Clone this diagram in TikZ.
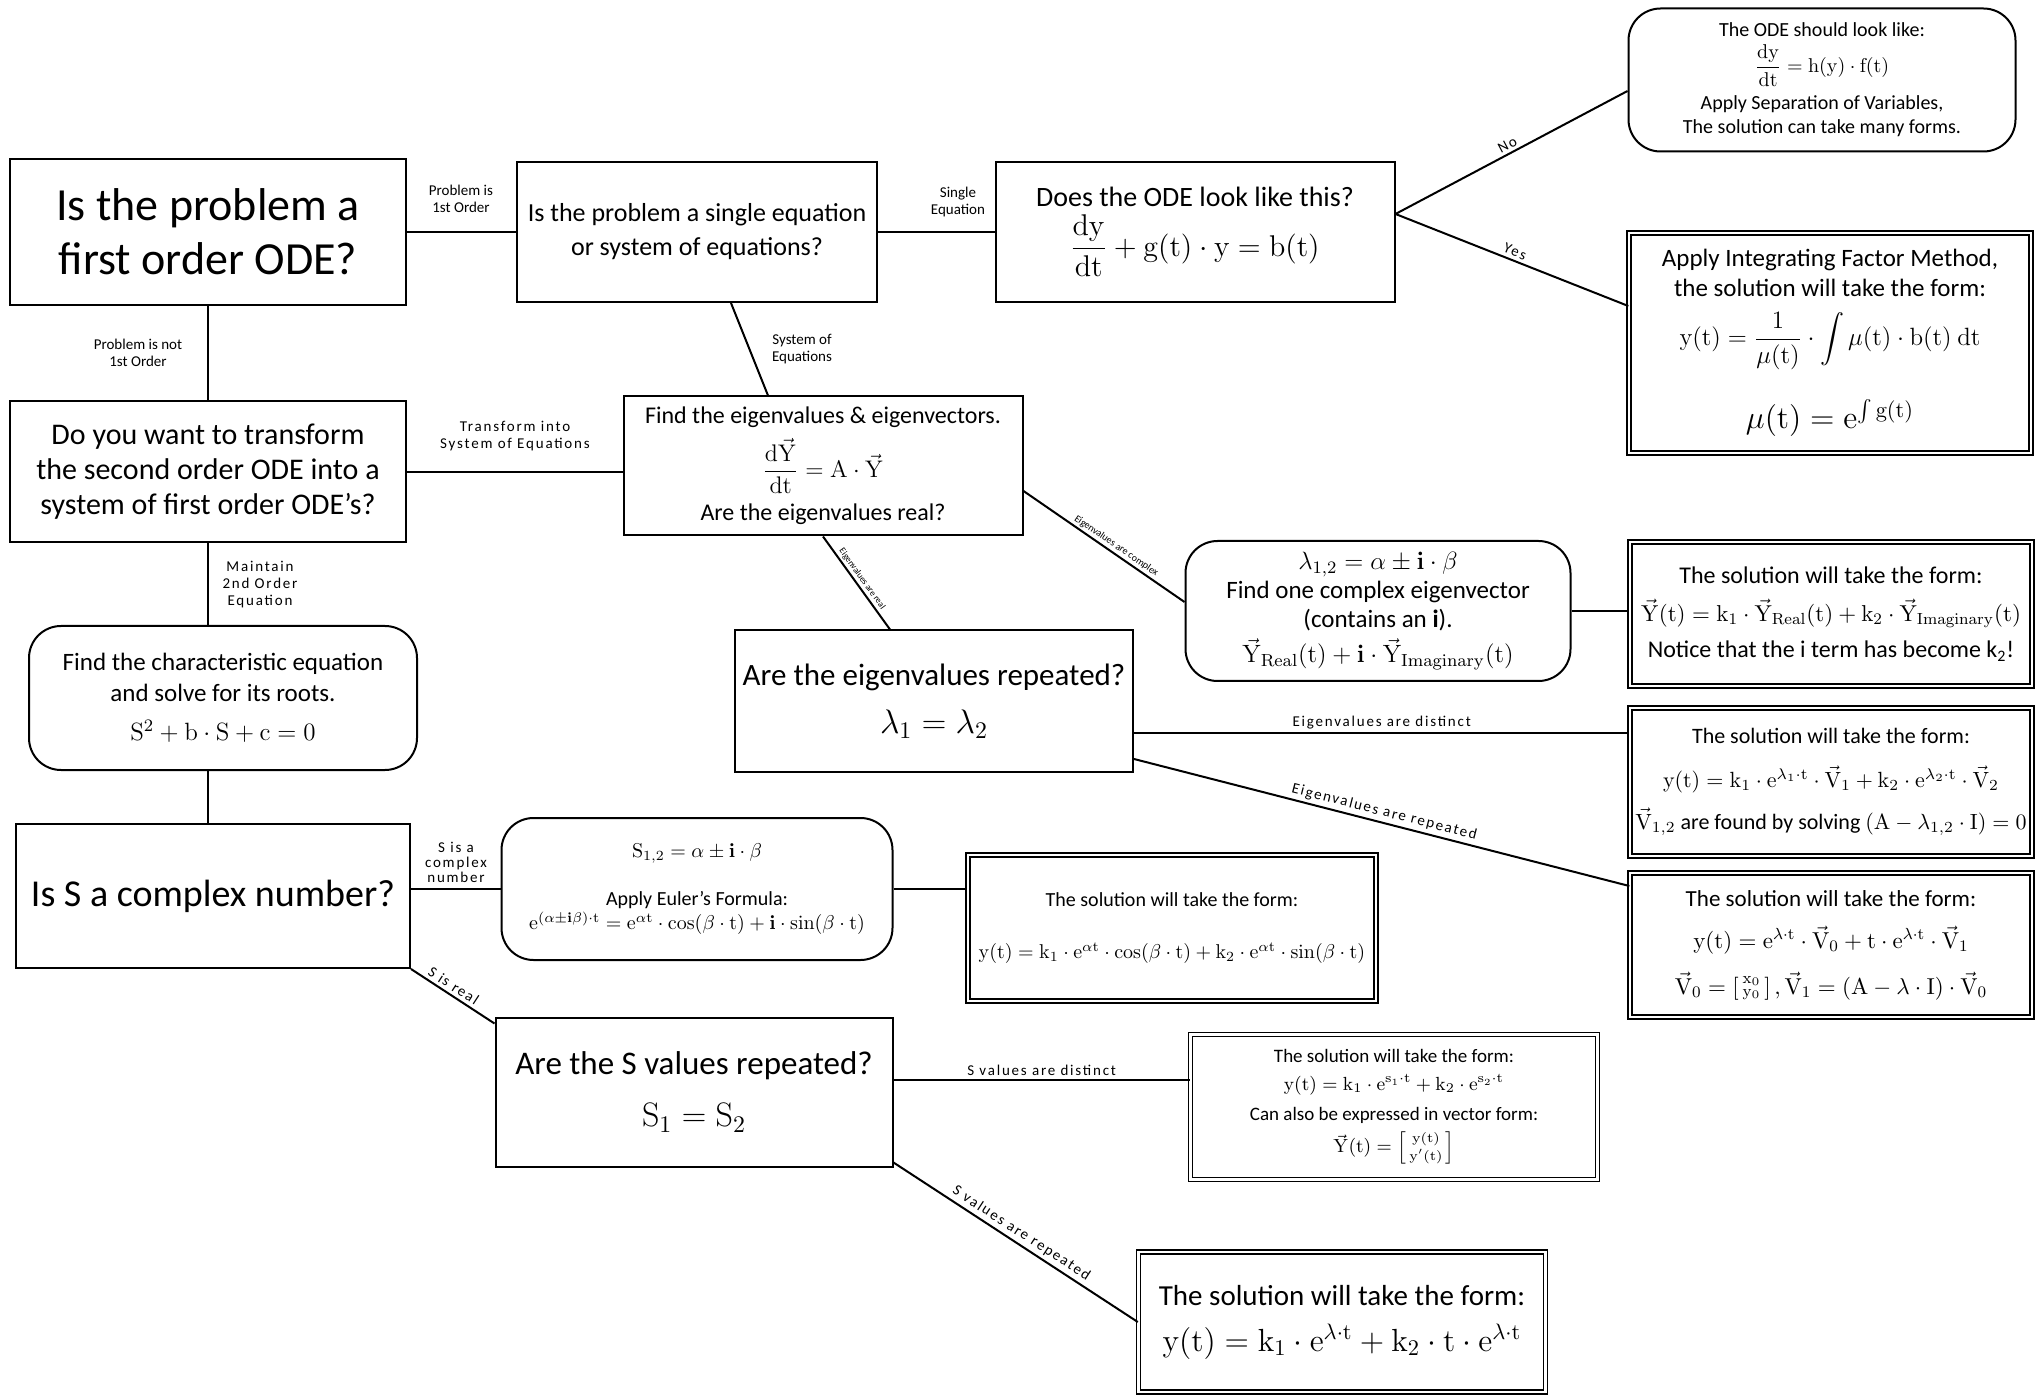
\RequirePackage{fix-cm}
\documentclass[tikz,border=0pt]{standalone}
\usepackage{amsmath}
\usepackage[no-math]{fontspec}
\setmainfont{Carlito}
\usetikzlibrary{calc}
\newcommand{\fsz}[2]{\fontsize{#1}{#2}\selectfont}
\newcommand{\vY}{\vec{\mathrm{Y}}}
\newcommand{\vV}{\vec{\mathrm{V}}}
\tikzset{
  box/.style={draw, line width=1pt, align=center, inner sep=2pt},
  rbox/.style={box, rounded corners=16pt},
  dbox/.style={draw, double, double distance=1.4pt, line width=0.7pt, align=center, inner sep=2pt},
  conn/.style={line width=1pt},
  lab/.style={font=\fsz{7.5pt}{8.5pt}, align=center, inner sep=1.5pt},
  slab/.style={font=\fsz{7.5pt}{8.5pt}\addfontfeature{LetterSpace=12}, align=center, inner sep=1.5pt},
  tlab/.style={font=\fsz{5pt}{6pt}, inner sep=1pt},
}
\begin{document}
\begin{tikzpicture}[x=0.5pt, y=-0.5pt]
\fill[white] (0,0) rectangle (2035,1395);
\useasboundingbox (0,0) rectangle (2035,1395);

% ---- nodes ----
\node[box, minimum width=198pt, minimum height=73pt, font=\fsz{23pt}{27pt}] (A) at (208,232) {Is the problem a\\first order ODE?};
\node[box, minimum width=180pt, minimum height=70pt, font=\fsz{13pt}{17pt}] (B) at (697,232) {Is the problem a single equation\\or system of equations?};
\node[box, minimum width=199.5pt, minimum height=70pt, font=\fsz{14pt}{17pt}] (C) at (1195,232) {Does the ODE look like this?\\[3pt] {\fsz{15pt}{18pt}$\displaystyle\mathrm{\frac{dy}{dt} + g(t)\cdot y = b(t)}$}};
\node[rbox, minimum width=193.5pt, minimum height=71.5pt, font=\fsz{10pt}{12pt}] (D) at (1822,80) {The ODE should look like:\\[3pt] $\mathrm{\dfrac{dy}{dt} = h(y)\cdot f(t)}$\\[4pt] Apply Separation of Variables,\\ The solution can take many forms.};
\node[dbox, minimum width=201pt, minimum height=110pt, font=\fsz{12.5pt}{15pt}] (E) at (1830,343) {Apply Integrating Factor Method,\\ the solution will take the form:\\[7pt] $\mathrm{y(t) = \dfrac{1}{\mu(t)}\cdot\displaystyle\int \mu(t)\cdot b(t)\ dt}$\\[14pt] {\fsz{16pt}{18pt}$\mathrm{\mu(t) = e^{\int g(t)}}$}};
\node[box, minimum width=198pt, minimum height=70.5pt, font=\fsz{15pt}{17.5pt}] (F) at (208,472) {Do you want to transform\\the second order ODE into a\\system of first order ODE’s?};
\node[box, minimum width=199.5pt, minimum height=69.5pt, font=\fsz{12pt}{14pt}] (G) at (823,466) {Find the eigenvalues \& eigenvectors.\\[4pt] $\dfrac{\mathrm{d}\vY}{\mathrm{dt}} = \mathrm{A}\cdot\vY$\\[4pt] Are the eigenvalues real?};
\node[box, minimum width=199pt, minimum height=70.5pt, font=\fsz{15.5pt}{18pt}] (H) at (934,701) {Are the eigenvalues repeated?\\[6pt] {\fsz{17pt}{19pt}$\lambda_1 = \lambda_2$}};
\node[rbox, minimum width=192.5pt, minimum height=70pt, font=\fsz{12.5pt}{14.5pt}] (I) at (1378,611) {$\lambda_{1,2} = \alpha \pm \mathbf{i}\cdot\beta$\\ Find one complex eigenvector\\ (contains an \textbf{i}).\\[3pt] $\vY_{\mathrm{Real}}\mathrm{(t)} + \mathbf{i}\cdot\vY_{\mathrm{Imaginary}}\mathrm{(t)}$};
\node[dbox, minimum width=201pt, minimum height=72pt, font=\fsz{12pt}{15pt}] (J) at (1831,614) {The solution will take the form:\\[4pt] {\fsz{11.5pt}{14pt}$\vY\mathrm{(t)} = \mathrm{k_1}\cdot\vY_{\mathrm{Real}}\mathrm{(t)} + \mathrm{k_2}\cdot\vY_{\mathrm{Imaginary}}\mathrm{(t)}$}\\[3pt] Notice that the i term has become k\textsubscript{2}!};
\node[dbox, minimum width=201pt, minimum height=74pt, font=\fsz{11pt}{14pt}] (K) at (1831,782) {The solution will take the form:\\[8pt] $\mathrm{y(t) = k_1\cdot e^{\lambda_1\cdot t}}\cdot\vV_1 + \mathrm{k_2\cdot e^{\lambda_2\cdot t}}\cdot\vV_2$\\[7pt] $\vV_{1,2}$ are found by solving $\mathrm{\left(A-\lambda_{1,2}\cdot I\right) = 0}$};
\node[dbox, minimum width=201pt, minimum height=72pt, font=\fsz{11.5pt}{14pt}] (L) at (1831,945) {The solution will take the form:\\[7pt] $\mathrm{y(t) = e^{\lambda\cdot t}}\cdot\vV_0 + \mathrm{t\cdot e^{\lambda\cdot t}}\cdot\vV_1$\\[9pt] $\vV_0 = \left[\begin{smallmatrix}\mathrm{x_0}\\ \mathrm{y_0}\end{smallmatrix}\right], \vV_1 = \mathrm{(A-\lambda\cdot I)}\cdot\vV_0$};
\node[rbox, minimum width=194pt, minimum height=72pt, font=\fsz{12.5pt}{15.5pt}] (M) at (223,698) {Find the characteristic equation\\ and solve for its roots.\\[4pt] $\mathrm{S^2 + b\cdot S + c = 0}$};
\node[box, minimum width=197pt, minimum height=72pt, font=\fsz{19pt}{22pt}] (N) at (213,896) {Is S a complex number?};
\node[rbox, minimum width=195.5pt, minimum height=71pt, font=\fsz{10pt}{12pt}] (O) at (697,889) {$\mathrm{S_{1,2} = \alpha \pm \mathbf{i}\cdot\beta}$\\[12pt] Apply Euler’s Formula:\\ $\mathrm{e^{(\alpha\pm\mathbf{i}\beta)\cdot t} = e^{\alpha t}\cdot\cos(\beta\cdot t) + \mathbf{i}\cdot\sin(\beta\cdot t)}$};
\node[dbox, minimum width=204pt, minimum height=73pt, font=\fsz{10pt}{12pt}] (P) at (1172,928) {The solution will take the form:\\[14pt] $\mathrm{y(t) = k_1\cdot e^{\alpha t}\cdot\cos(\beta\cdot t) + k_2\cdot e^{\alpha t}\cdot\sin(\beta\cdot t)}$};
\node[box, minimum width=198.5pt, minimum height=74.5pt, font=\fsz{16.5pt}{19pt}] (Q) at (694,1092) {Are the S values repeated?\\[7pt] {\fsz{17pt}{19pt}$\mathrm{S_1 = S_2}$}};
\node[dbox, minimum width=203.5pt, minimum height=72.5pt, font=\fsz{9.5pt}{12pt}] (R) at (1394,1107) {The solution will take the form:\\[2pt] $\mathrm{y(t) = k_1\cdot e^{s_1\cdot t} + k_2\cdot e^{s_2\cdot t}}$\\[3pt] Can also be expressed in vector form:\\[3pt] $\vY\mathrm{(t)} = \left[\begin{smallmatrix}\mathrm{y(t)}\\ \mathrm{y'(t)}\end{smallmatrix}\right]$};
\node[dbox, minimum width=203.5pt, minimum height=70pt, font=\fsz{14.5pt}{17pt}] (S) at (1342,1322) {The solution will take the form:\\[6pt] {\fsz{16pt}{18pt}$\mathrm{y(t) = k_1\cdot e^{\lambda\cdot t} + k_2\cdot t\cdot e^{\lambda\cdot t}}$}};

% ---- connectors ----
\draw[conn] (A) -- (B);
\node[lab] (lAB) at (461,199) {Problem is\\1st Order};
\draw[conn] (B) -- (C);
\node[lab] (lBC) at (958,202) {Single\\Equation};
\coordinate (Cr) at ($(C.east)+(0,-18)$);
\draw[conn] (Cr) -- ($(D.west)+(0,11)$) node[sloped, above, midway, slab] {No};
\draw[conn] (Cr) -- ($(E.west)+(0,-37)$) node[sloped, above, midway, slab] {Yes};

\draw[conn] (A) -- (F);
\node[lab] (lAF) at (138,353) {Problem is not\\1st Order};
\draw[conn] (F.east) -- (F.east -| G.west);
\node[slab] (lFG) at (515,436) {Transform into\\System of Equations};
\draw[conn] ($(B.south)+(34,0)$) -- ($(G.north)+(-55,0)$);
\node[lab] (lBG) at (802,349) {System of\\Equations};
\draw[conn] (G.south) -- ($(H.north)+(-44,0)$) node[sloped, above, midway, tlab, font=\fsz{4.5pt}{5pt}] {Eigenvalues are real};
\draw[conn] ($(G.east)+(0,25)$) -- ($(I.west)+(0,-9)$) node[sloped, above, pos=.55, tlab] {Eigenvalues are complex};
\draw[conn] (I.east) -- (I.east -| J.west);
\coordinate (Hk) at ($(H.east)+(0,32)$);
\draw[conn] (Hk) -- (Hk -| K.west) node[midway, above, slab] {Eigenvalues are distinct};
\draw[conn] ($(H.east)+(0,58)$) -- ($(L.west)+(0,-59)$) node[sloped, above, midway, slab] {Eigenvalues are repeated};

\draw[conn] (F.south) -- (F.south |- M.north);
\node[slab] (lFM) at (260,585) {Maintain\\2nd Order\\Equation};
\coordinate (Mb) at (F.south |- M.south);
\draw[conn] (Mb) -- (Mb |- N.north);
\draw[conn] (O.west -| N.east) -- (O.west);
\node[slab, font=\fsz{7.5pt}{7.5pt}\addfontfeature{LetterSpace=12}] (lNO) at (456,862) {S is a\\complex\\number};
\draw[conn] (O.east) -- (O.east -| P.west);
\draw[conn] (N.south east) -- ($(Q.north west)+(0,7)$) node[sloped, above, pos=.45, slab] {S is real};
\coordinate (Qr) at ($(Q.east)+(0,-12)$);
\draw[conn] (Qr) -- (Qr -| R.west) node[midway, above, slab] {S values are distinct};
\draw[conn] ($(Q.south east)+(0,-5)$) -- (S.west) node[sloped, above, midway, slab] {S values are repeated};
\end{tikzpicture}
\end{document}
